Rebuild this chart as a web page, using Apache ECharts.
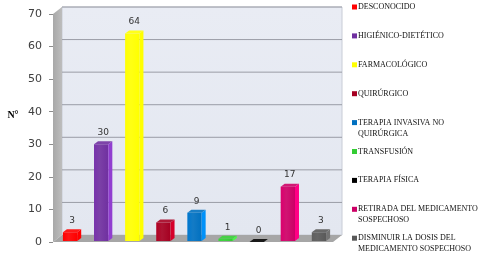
<!DOCTYPE html>
<html>
<head>
<meta charset="utf-8">
<script src="https://cdn.jsdelivr.net/npm/echarts@6/dist/echarts.min.js"></script>
<style>
html,body{margin:0;padding:0;background:#ffffff;}
#chart{width:491px;height:255px;}
</style>
</head>
<body>
<div id="chart"></div>
<script>
const categories = ['DESCONOCIDO', 'HIGIÉNICO-DIETÉTICO', 'FARMACOLÓGICO', 'QUIRÚRGICO',
  'TERAPIA INVASIVA NO\nQUIRÚRGICA', 'TRANSFUSIÓN', 'TERAPIA FÍSICA',
  'RETIRADA DEL MEDICAMENTO\nSOSPECHOSO', 'DISMINUIR LA DOSIS DEL\nMEDICAMENTO SOSPECHOSO'];
const values = [3, 30, 64, 6, 9, 1, 0, 17, 3];
const colors = ['#ff0000', '#7030a0', '#ffff00', '#a50021', '#0070c0', '#33cc33', '#000000', '#cc0066', '#595959'];
const yTicks = [0, 10, 20, 30, 40, 50, 60, 70];
const yName = 'N°';

const DX = 9, DY = -7;      // wall depth
const BDX = 4, BDY = -3;    // bar depth
const lift = echarts.color.lift;

const chart = echarts.init(document.getElementById('chart'));

function wallItem(params, api) {
  const cs = params.coordSys;
  const x0 = cs.x, x1 = cs.x + cs.width;
  const yTop = api.coord([0, yTicks[yTicks.length - 1]])[1];
  const yBot = api.coord([0, 0])[1];
  const children = [];
  if (params.dataIndex === 0) {
    children.push({
      type: 'rect',
      shape: { x: x0 + DX, y: yTop + DY, width: x1 - x0, height: yBot - yTop },
      style: { fill: new echarts.graphic.LinearGradient(0, 0, 0, 1, [
        { offset: 0, color: '#e9ecf4' }, { offset: 1, color: '#e3e7f0' }]), stroke: '#c8ccd6', lineWidth: 1 }
    });
    children.push({
      type: 'polygon',
      shape: { points: [[x0, yTop], [x0 + DX, yTop + DY], [x0 + DX, yBot + DY], [x0, yBot]] },
      style: { fill: new echarts.graphic.LinearGradient(0, 0, 1, 0, [
        { offset: 0, color: '#a8a8a8' }, { offset: 1, color: '#bdbdbd' }]) }
    });
    children.push({
      type: 'polygon',
      shape: { points: [[x0, yBot], [x0 + DX, yBot + DY], [x1 + DX, yBot + DY], [x1, yBot]] },
      style: { fill: '#a6a6a6' }
    });
  }
  const v = api.value(0);
  if (v > 0) {
    const y = api.coord([0, v])[1] + DY;
    children.push({
      type: 'line',
      shape: { x1: x0 + DX, y1: y, x2: x1 + DX, y2: y },
      style: { stroke: '#9a9ca6', lineWidth: 1 }
    });
  }
  return { type: 'group', children: children };
}

function barItem(params, api) {
  const idx = api.value(0);
  const val = api.value(1);
  const top = api.coord([idx, val]);
  const base = api.coord([idx, 0]);
  const w = api.size([1, 0])[0] * 0.46;
  const xl = top[0] - w / 2 + 1.5, xr = xl + w;
  const yt = top[1], yb = base[1] - 1;
  const c = colors[params.dataIndex];
  const front = new echarts.graphic.LinearGradient(0, 0, 1, 0, [
    { offset: 0, color: lift(c, -0.08) }, { offset: 0.4, color: lift(c, 0.08) }, { offset: 1, color: c }]);
  const children = [];
  if (yb - yt > 0.5) {
    children.push({ type: 'rect', shape: { x: xl, y: yt, width: w, height: yb - yt }, style: { fill: front } });
    children.push({ type: 'polygon', shape: { points: [[xr, yt], [xr + BDX, yt + BDY], [xr + BDX, yb + BDY], [xr, yb]] },
      style: { fill: lift(c, -0.3) } });
  }
  children.push({ type: 'polygon', shape: { points: [[xl, yt], [xl + BDX, yt + BDY], [xr + BDX, yt + BDY], [xr, yt]] },
    style: { fill: lift(c, 0.1) } });
  children.push({ type: 'text', x: (xl + xr) / 2 + 2, y: yt - 7,
    style: { text: String(val), align: 'center', verticalAlign: 'bottom', font: '9px "DejaVu Sans"', fill: '#333333' } });
  return { type: 'group', children: children };
}

const legendLeft = 352, legendTop = 7, legendStep = 28.9;
const legendGraphics = [];
categories.forEach(function (name, i) {
  const y = legendTop + i * legendStep;
  legendGraphics.push({ type: 'rect', shape: { x: legendLeft, y: y - 2.5, width: 5, height: 5 }, style: { fill: colors[i] } });
  legendGraphics.push({ type: 'text', x: legendLeft + 6, y: y - 5.5,
    style: { text: name, font: '8px "Liberation Serif"', lineHeight: 11, fill: '#111111', verticalAlign: 'top', align: 'left' } });
});
legendGraphics.push({ type: 'text', x: 13, y: 115,
  style: { text: yName, font: 'bold 10px "Liberation Serif"', fill: '#000000', align: 'center', verticalAlign: 'middle' } });

chart.setOption({
  animation: false,
  grid: { left: 53, top: 14, width: 280, bottom: 13 },
  xAxis: { type: 'category', data: categories, axisLine: { show: false }, axisTick: { show: false }, axisLabel: { show: false }, splitLine: { show: false } },
  yAxis: {
    type: 'value', min: 0, max: 70, interval: 10,
    axisLine: { show: false },
    axisTick: { show: true, length: 4, lineStyle: { color: '#8c8c8c' } },
    axisLabel: { fontFamily: 'DejaVu Sans', fontSize: 11, color: '#404040', margin: 11 },
    splitLine: { show: false }
  },
  graphic: legendGraphics,
  series: [
    { type: 'custom', name: 'walls', renderItem: wallItem, data: yTicks.map(function (t) { return [t]; }), z: 1, silent: true,
      encode: { x: -1, y: 0 } },
    { type: 'custom', name: 'N°', renderItem: barItem, data: values.map(function (v, i) { return [i, v]; }), z: 2,
      encode: { x: 0, y: 1 } }
  ]
});
</script>
</body>
</html>
